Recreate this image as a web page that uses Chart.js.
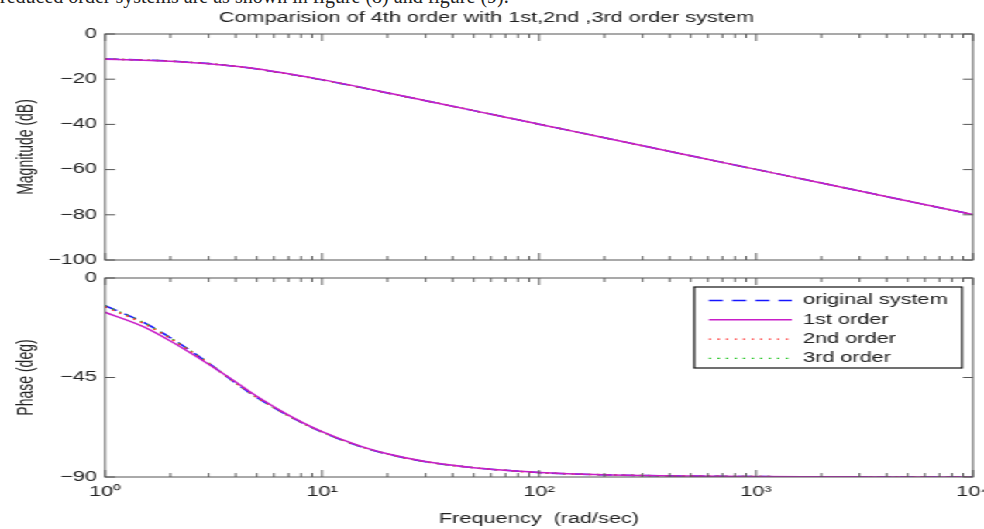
<!DOCTYPE html>
<html>
<head>
<meta charset="utf-8">
<script src="https://cdn.jsdelivr.net/npm/chart.js@4.4.0/dist/chart.umd.min.js"></script>
<style>
html, body { margin: 0; padding: 0; background: #fff; overflow: hidden; }
#cap { position: absolute; left: 0; top: -14px; font-family: "Liberation Serif", "Times New Roman", serif; font-size: 20px; line-height: 20px; color: #222; white-space: nowrap; }
/* the source figure is stretched sideways, so draw narrow and scale it out */
#wrap { position: absolute; left: 0; top: 0; width: 635px; height: 529px; transform: scaleX(1.5496); transform-origin: 0 0; }
#wrap canvas { position: absolute; left: 0; top: 0; }
</style>
</head>
<body>
<div id="cap">reduced order systems are as shown in figure (8) and figure (9).</div>
<div id="wrap">
  <canvas id="magChart" width="635" height="529"></canvas>
  <canvas id="phaseChart" width="635" height="529"></canvas>
</div>
<script>
// frequency points (rad/sec)
const freq = [1, 1.5, 2, 3, 4, 5, 7, 10, 15, 20, 30, 50, 70, 100, 200, 500, 1000, 2000, 5000, 10000];

// magnitude (dB)
const magOrig = [-11.1, -11.5, -12.0, -13.1, -14.3, -15.5, -17.7, -20.3, -23.6, -26.1, -29.5, -33.9, -36.8, -39.9, -45.9, -53.9, -59.9, -65.9, -73.9, -79.9];
const mag1st  = [-11.2, -11.6, -12.1, -13.2, -14.3, -15.4, -17.6, -20.2, -23.5, -26.0, -29.5, -33.9, -36.8, -39.9, -45.9, -53.9, -59.9, -65.9, -73.9, -79.9];
const mag2nd  = [-11.1, -11.5, -12.0, -13.1, -14.3, -15.5, -17.7, -20.3, -23.6, -26.1, -29.5, -33.9, -36.8, -39.9, -45.9, -53.9, -59.9, -65.9, -73.9, -79.9];
const mag3rd  = [-11.1, -11.5, -12.0, -13.1, -14.3, -15.5, -17.7, -20.3, -23.6, -26.1, -29.5, -33.9, -36.8, -39.9, -45.9, -53.9, -59.9, -65.9, -73.9, -79.9];

// phase (deg)
const phaseOrig = [-12.5, -20.0, -27.0, -38.5, -47.5, -54.0, -62.3, -69.7, -76.2, -79.6, -83.1, -85.8, -87.0, -88.0, -89.0, -89.6, -89.8, -89.9, -90.0, -90.0];
const phase1st  = [-15.5, -22.0, -28.5, -39.0, -47.0, -53.5, -62.0, -69.5, -76.0, -79.5, -83.0, -85.8, -87.0, -88.0, -89.0, -89.6, -89.8, -89.9, -90.0, -90.0];
const phase2nd  = [-13.0, -20.5, -27.3, -38.7, -47.4, -53.9, -62.2, -69.6, -76.1, -79.6, -83.1, -85.8, -87.0, -88.0, -89.0, -89.6, -89.8, -89.9, -90.0, -90.0];
const phase3rd  = [-12.6, -20.1, -27.1, -38.5, -47.5, -54.0, -62.3, -69.7, -76.2, -79.6, -83.1, -85.8, -87.0, -88.0, -89.0, -89.6, -89.8, -89.9, -90.0, -90.0];

// axis ticks
const xMajorTicks = [1, 10, 100, 1000, 10000];
const xMinorSteps = [2, 3, 4, 5, 6, 7, 8, 9];
const magTicks = [0, -20, -40, -60, -80, -100];
const phaseTicks = [0, -45, -90];
const supDigits = ['⁰', '¹', '²', '³', '⁴'];

const seriesNames = ['original system', '1st order', '2nd order', '3rd order'];
const seriesColors = ['#1414ff', '#c81ec8', '#ff2a2a', '#1cc41c'];
const seriesDash = [[9, 6], [], [1.5, 4], [1.5, 4]];
const seriesOrder = [2, 0, 1, 1]; // magenta ends up on top, like the source

const FONT = '"Liberation Sans", Arial, Helvetica, sans-serif';
const TEXT = '#222';

let xTicks = [];
xMajorTicks.forEach(m => {
    xTicks.push(m);
    if (m < 10000) xMinorSteps.forEach(s => xTicks.push(m * s));
});

function makeSets(lists) {
    return lists.map((vals, i) => ({
        label: seriesNames[i],
        data: freq.map((f, k) => ({ x: f, y: vals[k] })),
        borderColor: seriesColors[i],
        borderDash: seriesDash[i],
        borderWidth: 1.5,
        pointRadius: 0,
        fill: false,
        order: seriesOrder[i],
        cubicInterpolationMode: 'monotone'
    }));
}

// MATLAB style box with inward ticks on all four sides
const boxTicks = {
    id: 'boxTicks',
    afterDatasetsDraw(chart) {
        const { ctx, chartArea: a, scales: { x, y } } = chart;
        ctx.save();
        ctx.strokeStyle = '#555';
        ctx.lineWidth = 1;
        ctx.beginPath();
        x.ticks.forEach(t => {
            const px = x.getPixelForValue(t.value);
            const len = xMajorTicks.includes(t.value) ? 7 : 4;
            ctx.moveTo(px, a.bottom); ctx.lineTo(px, a.bottom - len);
            ctx.moveTo(px, a.top); ctx.lineTo(px, a.top + len);
        });
        y.ticks.forEach(t => {
            const py = y.getPixelForValue(t.value);
            ctx.moveTo(a.left, py); ctx.lineTo(a.left + 6.5, py);
            ctx.moveTo(a.right, py); ctx.lineTo(a.right - 6.5, py);
        });
        ctx.stroke();
        ctx.strokeRect(a.left, a.top, a.right - a.left, a.bottom - a.top);
        ctx.restore();
    }
};

// legend box inside the phase plot
const innerLegend = {
    id: 'innerLegend',
    afterDraw(chart) {
        const ctx = chart.ctx;
        const bx = 448, by = 287, bw = 172.8, bh = 81;
        ctx.save();
        ctx.fillStyle = '#fff';
        ctx.fillRect(bx, by, bw, bh);
        ctx.strokeStyle = '#111';
        ctx.lineWidth = 1.2;
        ctx.strokeRect(bx, by, bw, bh);
        ctx.font = '14px ' + FONT;
        ctx.textBaseline = 'middle';
        chart.data.datasets.forEach((ds, i) => {
            const ry = by + 13.5 + i * 19.3;
            ctx.strokeStyle = ds.borderColor;
            ctx.lineWidth = 1.4;
            ctx.setLineDash(ds.borderDash);
            ctx.beginPath();
            ctx.moveTo(457.5, ry);
            ctx.lineTo(511, ry);
            ctx.stroke();
            ctx.setLineDash([]);
            ctx.fillStyle = TEXT;
            ctx.fillText(ds.label, 518.2, ry);
        });
        ctx.restore();
    }
};

function xScale(showLabels) {
    return {
        type: 'logarithmic',
        min: 1,
        max: 10000,
        grid: { display: false, drawTicks: false },
        border: { display: false },
        afterBuildTicks: s => { s.ticks = xTicks.map(v => ({ value: v, major: xMajorTicks.includes(v) })); },
        ticks: {
            display: showLabels,
            autoSkip: false,
            maxRotation: 0,
            padding: 7,
            color: TEXT,
            font: { family: FONT, size: 14 },
            callback: v => {
                const e = xMajorTicks.indexOf(v);
                return e >= 0 ? '10' + supDigits[e] : '';
            }
        },
        title: {
            display: showLabels,
            text: 'Frequency  (rad/sec)',
            color: TEXT,
            font: { family: FONT, size: 14 },
            padding: { top: 0, bottom: 1 }
        },
        afterFit: s => {
            s.height = showLabels ? 52 : 0;
            s.paddingLeft = 0;
            s.paddingRight = 0;
        }
    };
}

function yScale(min, max, list, label) {
    return {
        min: min,
        max: max,
        grid: { display: false, drawTicks: false },
        border: { display: false },
        afterBuildTicks: s => { s.ticks = list.map(v => ({ value: v })); },
        ticks: {
            padding: 5.2,
            color: TEXT,
            font: { family: FONT, size: 14 },
            callback: v => String(v).replace('-', '\u2212')
        },
        title: {
            display: true,
            text: label,
            color: TEXT,
            font: { family: FONT, size: 14 },
            padding: { top: 9, bottom: 0 }
        },
        afterFit: s => {
            s.width = 67.8;
            s.paddingTop = 0;
            s.paddingBottom = 0;
        }
    };
}

new Chart(document.getElementById('magChart'), {
    type: 'line',
    data: { datasets: makeSets([magOrig, mag1st, mag2nd, mag3rd]) },
    options: {
        responsive: false,
        animation: false,
        layout: { padding: { left: 0, right: 7.1, top: 0, bottom: 269 } },
        plugins: {
            legend: { display: false },
            tooltip: { enabled: false },
            title: {
                display: true,
                text: 'Comparision of 4th order with 1st,2nd ,3rd order system',
                color: TEXT,
                font: { family: FONT, size: 14, weight: 'normal' },
                padding: { top: 10, bottom: 7.2 }
            }
        },
        scales: {
            x: xScale(false),
            y: yScale(-100, 0, magTicks, 'Magnitude (dB)')
        }
    },
    plugins: [boxTicks]
});

new Chart(document.getElementById('phaseChart'), {
    type: 'line',
    data: { datasets: makeSets([phaseOrig, phase1st, phase2nd, phase3rd]) },
    options: {
        responsive: false,
        animation: false,
        layout: { padding: { left: 0, right: 7.1, top: 278, bottom: 0 } },
        plugins: {
            legend: { display: false },
            tooltip: { enabled: false }
        },
        scales: {
            x: xScale(true),
            y: yScale(-90, 0, phaseTicks, 'Phase (deg)')
        }
    },
    plugins: [boxTicks, innerLegend]
});
</script>
</body>
</html>
